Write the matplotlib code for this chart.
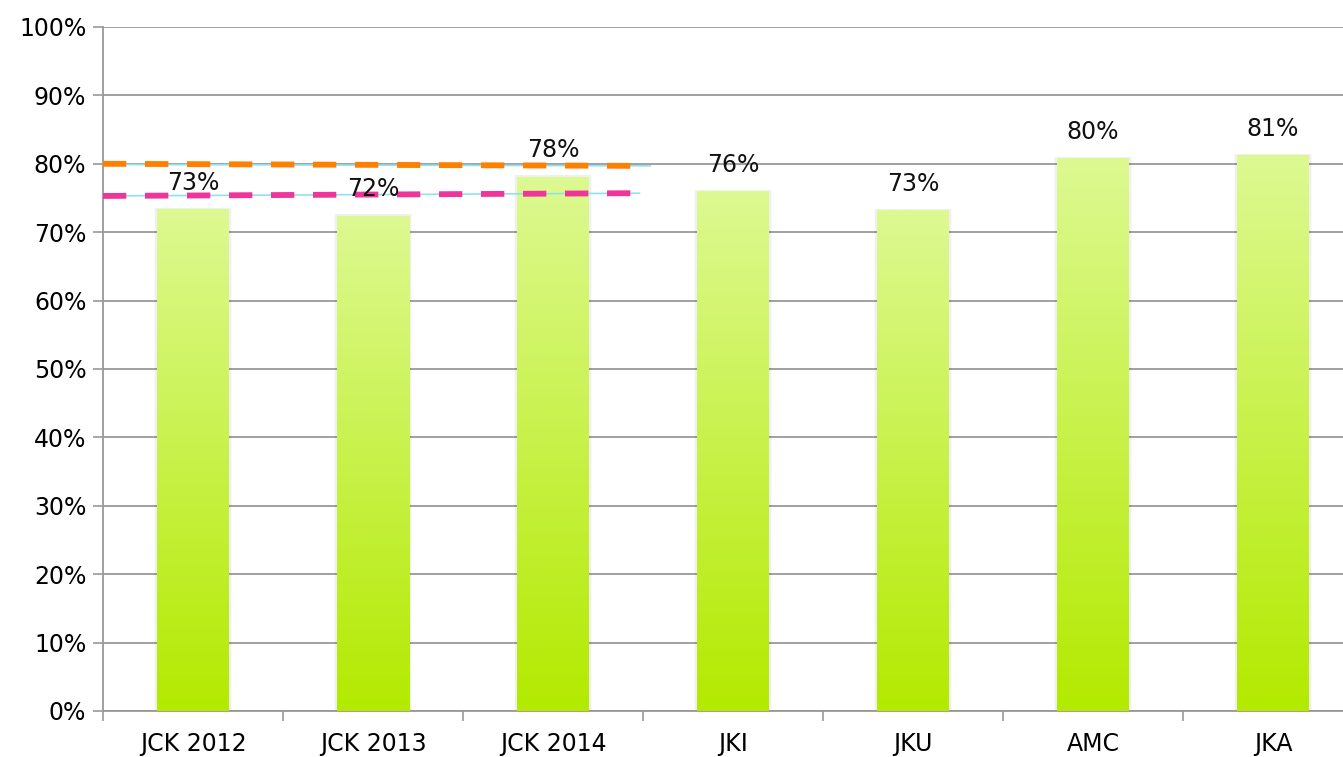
import numpy as np
import matplotlib
matplotlib.use("Agg")
import matplotlib.pyplot as plt
from matplotlib.colors import LinearSegmentedColormap

categories = ["JCK 2012", "JCK 2013", "JCK 2014", "JKI", "JKU", "AMC", "JKA"]
values = [0.734, 0.724, 0.781, 0.760, 0.732, 0.808, 0.813]
labels = ["73%", "72%", "78%", "76%", "73%", "80%", "81%"]

# reference lines across the JCK group
orange_x = [-0.5, 2.43]
orange_y = [0.800, 0.797]
pink_x = [-0.5, 2.43]
pink_y = [0.753, 0.757]
trend1_x = [-0.5, 2.54]
trend1_y = [0.799, 0.797]
trend2_x = [-0.5, 2.48]
trend2_y = [0.753, 0.757]

W, H, DPI = 1343, 757, 100
fig = plt.figure(figsize=(W / DPI, H / DPI), dpi=DPI)
# axes runs past the right edge, like the source
L, R, T, B = 103, 1363, 27, 711
ax = fig.add_axes([L / W, 1 - B / H, (R - L) / W, (B - T) / H])

x = np.arange(len(categories))
grad = LinearSegmentedColormap.from_list("g", ["#b3ea00", "#ddf992"])
bars = ax.bar(x, values, width=0.4, color="none", zorder=3)
for b in bars:
    bx, by = b.get_x(), b.get_y()
    bw, bh = b.get_width(), b.get_height()
    # soft shadow around the bar
    for k, a in [(0.03, 0.025), (0.018, 0.035)]:
        ax.bar(bx + bw / 2, bh + 0.002, width=bw + k, color="#000000", alpha=a, zorder=2)
    im = ax.imshow(np.linspace(0, 1, 256).reshape(-1, 1), cmap=grad, origin="lower",
                   extent=[bx, bx + bw, 0, bh], aspect="auto", zorder=3)
    im.set_clip_path(b)

for xi, v, lab in zip(x, values, labels):
    ax.annotate(lab, (xi, v), xytext=(0, 19), textcoords="offset points",
                ha="center", va="center", fontsize=17, color="#111111", zorder=6)

ax.plot(trend1_x, trend1_y, color="#8fe3f0", lw=1.2, zorder=4)
ax.plot(trend2_x, trend2_y, color="#8fe3f0", lw=1.2, zorder=4)
ax.plot(orange_x, orange_y, color="#ff7f00", lw=4.2, dashes=(4.0, 3.2), zorder=5)
ax.plot(pink_x, pink_y, color="#f0359a", lw=4.2, dashes=(4.0, 3.2), zorder=5)

ax.set_xlim(-0.5, len(categories) - 0.5)
ax.set_ylim(0, 1.0)
ticks = np.arange(0, 1.01, 0.1)
ax.set_yticks(ticks)
ax.set_yticklabels([f"{int(round(t * 100))}%" for t in ticks])
ax.set_xticks(x)
ax.set_xticklabels(categories)
ax.set_xticks(np.arange(-0.5, len(categories), 1.0), minor=True)
ax.tick_params(axis="x", which="major", length=0, pad=15, labelsize=17)
ax.tick_params(axis="x", which="minor", length=7, color="#999999", width=1.2)
ax.tick_params(axis="y", length=7, color="#999999", width=1.2, labelsize=17, pad=5)
ax.yaxis.grid(True, color="#999999", lw=1.3, zorder=1)
ax.set_axisbelow(True)
for s in ["top", "right"]:
    ax.spines[s].set_visible(False)
for s in ["left", "bottom"]:
    ax.spines[s].set_color("#999999")
    ax.spines[s].set_linewidth(1.3)

fig.savefig("out.png", dpi=DPI)
